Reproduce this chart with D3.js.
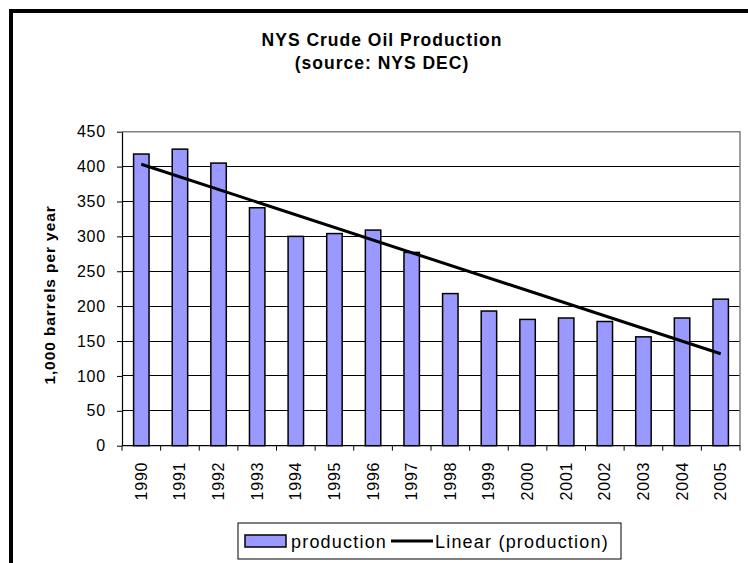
<!DOCTYPE html>
<html lang="en">
<head>
    <meta charset="UTF-8">
    <title>NYS Crude Oil Production</title>
    <script src="https://d3js.org/d3.v7.min.js"></script>
    <style>
        body { margin: 0; background-color: #fff; }
        svg { display: block; font-family: "Liberation Sans", Arial, sans-serif; }
        .title { font-size: 17.5px; font-weight: bold; letter-spacing: 1px; }
        .tick-label { font-size: 16px; letter-spacing: 0.8px; }
        .y-label { font-size: 15.5px; font-weight: bold; letter-spacing: 0.9px; }
        .legend-text { font-size: 18px; letter-spacing: 1.2px; }
    </style>
</head>
<body>
    <svg id="chart" width="748" height="563"></svg>

    <script>
        // data
        const years = ["1990", "1991", "1992", "1993", "1994", "1995", "1996", "1997",
                       "1998", "1999", "2000", "2001", "2002", "2003", "2004", "2005"];
        const production = [418, 425, 405, 341, 300, 304, 309, 277,
                            218, 193, 181, 183, 178, 156, 183, 210];
        const yTicks = [0, 50, 100, 150, 200, 250, 300, 350, 400, 450];

        const svg = d3.select("#chart"),
              plot = { left: 122, right: 740, top: 131.7, bottom: 445.7 };

        // outer chart border (right/bottom edges sit outside the window)
        svg.append("rect")
            .attr("x", 11).attr("y", 11)
            .attr("width", 800).attr("height", 600)
            .attr("fill", "none").attr("stroke", "#000").attr("stroke-width", 4);

        svg.append("text").attr("class", "title")
            .attr("x", 382).attr("y", 46)
            .attr("text-anchor", "middle")
            .text("NYS Crude Oil Production");
        svg.append("text").attr("class", "title")
            .attr("x", 382).attr("y", 69)
            .attr("text-anchor", "middle")
            .text("(source: NYS DEC)");

        const x = d3.scaleBand()
            .domain(years)
            .range([plot.left, plot.right])
            .paddingInner(0.6)
            .paddingOuter(0.3);
        const y = d3.scaleLinear().domain([0, 450]).range([plot.bottom, plot.top]);

        // gridlines
        svg.append("g").selectAll("line")
            .data(yTicks.filter(d => d > 0 && d < 450))
            .join("line")
            .attr("x1", plot.left).attr("x2", plot.right)
            .attr("y1", d => y(d)).attr("y2", d => y(d))
            .attr("stroke", "#000").attr("stroke-width", 1)
            .attr("shape-rendering", "crispEdges");

        // plot area frame (top & right grey)
        svg.append("path")
            .attr("d", `M${plot.left},${y(450)}H${plot.right}V${plot.bottom}`)
            .attr("fill", "none").attr("stroke", "#808080").attr("stroke-width", 1.5);

        // bars
        svg.append("g").selectAll("rect")
            .data(production)
            .join("rect")
            .attr("x", (d, i) => x(years[i]))
            .attr("y", d => y(d))
            .attr("width", x.bandwidth())
            .attr("height", d => y(0) - y(d))
            .attr("fill", "#9999FF")
            .attr("stroke", "#000").attr("stroke-width", 1.5);

        // y axis
        const yAxis = svg.append("g")
            .attr("transform", `translate(${plot.left},0)`)
            .call(d3.axisLeft(y).tickValues(yTicks).tickSize(5).tickSizeOuter(0).tickPadding(11));
        yAxis.select(".domain").attr("stroke", "#000").attr("stroke-width", 1.2);
        yAxis.selectAll(".tick line").attr("stroke", "#000");
        yAxis.selectAll("text").attr("class", "tick-label")
            .attr("font-family", null).attr("font-size", null).attr("fill", "#000");

        // x axis with ticks between categories
        const step = x.step();
        const xAxis = svg.append("g")
            .attr("transform", `translate(0,${plot.bottom})`);
        xAxis.append("line")
            .attr("x1", plot.left).attr("x2", plot.right)
            .attr("stroke", "#000").attr("stroke-width", 1.2);
        xAxis.selectAll(".xtick")
            .data(d3.range(years.length + 1))
            .join("line")
            .attr("class", "xtick")
            .attr("x1", i => plot.left + i * step).attr("x2", i => plot.left + i * step)
            .attr("y1", 0).attr("y2", 5)
            .attr("stroke", "#000");
        xAxis.selectAll(".xlabel")
            .data(years)
            .join("text")
            .attr("class", "tick-label xlabel")
            .attr("transform", d => `translate(${x(d) + x.bandwidth() / 2 + 5.5},16) rotate(-90)`)
            .attr("text-anchor", "end")
            .text(d => d);

        // linear trendline (least squares over the series)
        const n = production.length,
              mx = d3.mean(d3.range(n)),
              my = d3.mean(production),
              slope = d3.sum(production, (v, i) => (i - mx) * (v - my)) /
                      d3.sum(d3.range(n), i => (i - mx) * (i - mx)),
              intercept = my - slope * mx;
        const cx = i => x(years[i]) + x.bandwidth() / 2;
        const trend = [0, n - 1].map(i => [cx(i), y(intercept + slope * i)]);
        svg.append("path")
            .attr("d", d3.line()(trend))
            .attr("fill", "none").attr("stroke", "#000").attr("stroke-width", 3);

        // y axis title
        svg.append("text").attr("class", "y-label")
            .attr("transform", "translate(55,295) rotate(-90)")
            .attr("text-anchor", "middle")
            .text("1,000 barrels per year");

        // legend
        const legend = svg.append("g").attr("transform", "translate(238,523)");
        legend.append("rect")
            .attr("width", 383).attr("height", 36)
            .attr("fill", "#fff").attr("stroke", "#000").attr("stroke-width", 1);
        legend.append("rect")
            .attr("x", 7).attr("y", 12).attr("width", 41).attr("height", 12)
            .attr("fill", "#9999FF").attr("stroke", "#000").attr("stroke-width", 1.5);
        legend.append("text").attr("class", "legend-text")
            .attr("x", 53).attr("y", 24.5).text("production");
        legend.append("line")
            .attr("x1", 153).attr("x2", 195).attr("y1", 18).attr("y2", 18)
            .attr("stroke", "#000").attr("stroke-width", 3);
        legend.append("text").attr("class", "legend-text")
            .attr("x", 197).attr("y", 24.5).text("Linear (production)");
    </script>
</body>
</html>
